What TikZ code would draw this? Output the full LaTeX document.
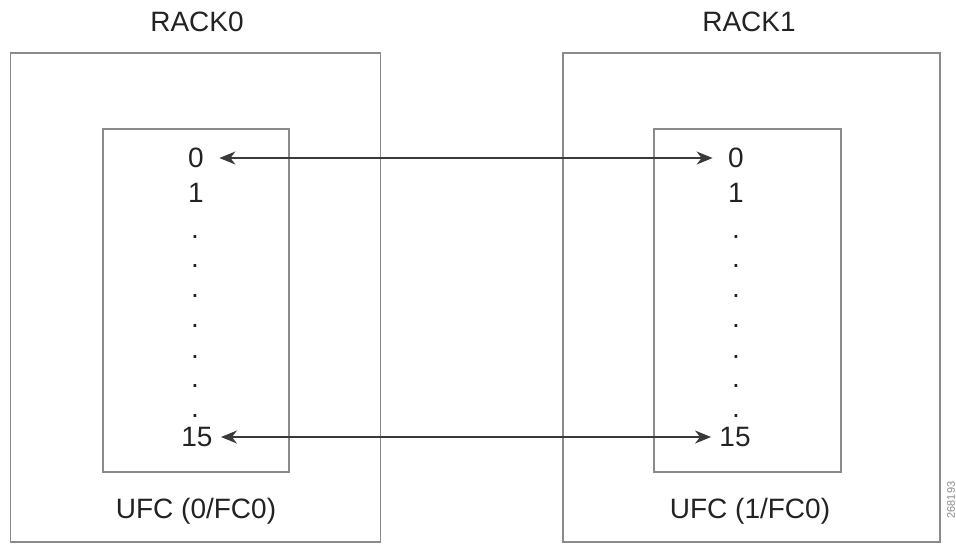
\documentclass[tikz,border=0pt]{standalone}
\usepackage{fontspec}
\setmainfont{Liberation Sans}
\usetikzlibrary{positioning,arrows.meta}
\definecolor{frame}{HTML}{8A8A8A}
\definecolor{ink}{HTML}{222222}
\definecolor{wire}{HTML}{3A3A3A}
\tikzset{
  rackbox/.style = {draw=frame, line width=0.8pt, inner sep=0pt},
  lbl/.style     = {text=ink, font=\fontsize{14}{16}\selectfont, inner sep=0pt},
  port/.style    = {lbl, minimum width=15pt},
  link/.style    = {{Stealth[length=8pt,width=6.5pt,inset=2.5pt]}-{Stealth[length=8pt,width=6.5pt,inset=2.5pt]},
                    draw=wire, fill=wire, line width=0.8pt, shorten <=4pt, shorten >=4pt},
}
\begin{document}
\begin{tikzpicture}[x=0.5pt,y=-0.5pt]
    \useasboundingbox (0,0) rectangle (956,548);
    % racks
    \node[rackbox, minimum width=185pt, minimum height=244.5pt] (rack0) at (195.5,297.5) {};
    \node[rackbox, minimum width=188.5pt, minimum height=244.5pt] (rack1) at (751.75,297.5) {};
    \node[rackbox, minimum width=93pt, minimum height=171.5pt] (ufc0) at (196,300.5) {};
    \node[rackbox, minimum width=93.5pt, minimum height=171.5pt] (ufc1) at (747.5,300.5) {};
    \node[lbl] (rack0lab) at (197,22) {RACK0};
    \node[lbl] (rack1lab) at (749,22) {RACK1};
    \node[lbl] (ufc0lab) at (196,511) {UFC (0/FC0)};
    \node[lbl] (ufc1lab) at (750,511) {UFC (1/FC0)};
    % fabric ports
    \node[port] (l0) at (196,158) {0};
    \node[port] (l1) at (196,193) {1};
    \node[port] (l15) at (197,437) {15};
    \node[port] (r0) at (736,158) {0};
    \node[port] (r1) at (736,193) {1};
    \node[port] (r15) at (735,437) {15};
    \foreach \y in {237,266,296,326,357,386,416}{
      \node[lbl] at (195,\y) {.};
      \node[lbl] at (736,\y) {.};}
    % links
    \draw[link] (l0) -- (r0);
    \draw[link] (l15) -- (r15);
    \node[text=frame, rotate=90, font=\fontsize{5.5}{6}\selectfont, inner sep=0pt] (figid) at (951,500) {268193};
  \end{tikzpicture}
\end{document}
